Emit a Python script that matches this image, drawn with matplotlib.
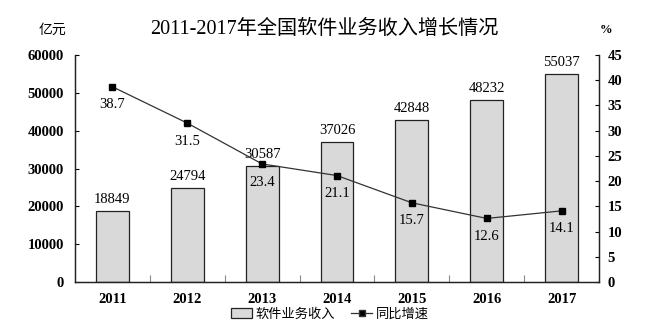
import matplotlib
matplotlib.use("Agg")
import matplotlib.pyplot as plt
from matplotlib.patches import Patch
from matplotlib.lines import Line2D
import numpy as np

years = ["2011", "2012", "2013", "2014", "2015", "2016", "2017"]
revenue = [18849, 24794, 30587, 37026, 42848, 48232, 55037]
growth = [38.7, 31.5, 23.4, 21.1, 15.7, 12.6, 14.1]
left_ticks = [0, 10000, 20000, 30000, 40000, 50000, 60000]
right_ticks = [0, 5, 10, 15, 20, 25, 30, 35, 40, 45]

SERIF = ["Liberation Serif", "Noto Sans CJK SC"]
CJK = ["Noto Sans CJK SC", "DejaVu Sans"]

W, H = 649, 331
fig = plt.figure(figsize=(W / 100, H / 100), dpi=100)
x0, x1, y0, y1 = 75, 599, 282, 55
ax = fig.add_axes([x0 / W, (H - y0) / H, (x1 - x0) / W, (y0 - y1) / H])
ax2 = ax.twinx()

x = np.arange(len(years))
ax.bar(x, revenue, width=0.44, color="#d9d9d9", edgecolor="#222222", linewidth=0.9, zorder=2)
for xi, v in zip(x, revenue):
    ax.text(xi, v + 1300, str(v), ha="center", va="bottom", fontsize=10.5,
            family=SERIF, color="black")

ax.set_xlim(-0.5, len(years) - 0.5)
ax.set_ylim(0, 60000)
ax.set_yticks(left_ticks)
ax.set_yticklabels([str(t) for t in left_ticks], family=SERIF, fontsize=10.5, fontweight="bold")
ax.set_xticks(x)
ax.set_xticklabels(years, family=SERIF, fontsize=10.5, fontweight="bold")
ax.set_xticks(np.arange(len(years) - 1) + 0.5, minor=True)
ax.tick_params(axis="x", which="major", length=0, pad=8)
ax.tick_params(axis="x", which="minor", direction="in", length=5, width=0.8, color="#888888")
ax.tick_params(axis="y", direction="in", length=3, width=0.8, pad=8)

ax2.plot(x, growth, color="#333333", linewidth=0.9, marker="s", markersize=5,
         markerfacecolor="black", markeredgecolor="black", zorder=3)
for xi, v in zip(x, growth):
    ax2.text(xi, v - 2.3, f"{v:.1f}", ha="center", va="top", fontsize=10.5,
             family=SERIF, color="black")
ax2.set_ylim(0, 45)
ax2.set_yticks(right_ticks)
ax2.set_yticklabels([str(t) for t in right_ticks], family=SERIF, fontsize=10.5, fontweight="bold")
ax2.tick_params(axis="y", direction="in", length=3, width=0.8, pad=6)

for a in (ax, ax2):
    a.spines["top"].set_visible(False)
    for s in ("left", "right", "bottom"):
        a.spines[s].set_linewidth(0.9)
        a.spines[s].set_color("#222222")

fig.text(324 / W, 1 - 29 / H, "2011-2017年全国软件业务收入增长情况", ha="center", va="center",
         fontsize=14.5, family=SERIF)
fig.text(52 / W, 1 - 30 / H, "亿元", ha="center", va="center", fontsize=10, family=CJK)
fig.text(606 / W, 1 - 30 / H, "%", ha="center", va="center", fontsize=9, family=SERIF,
         fontweight="bold")

handles = [Patch(facecolor="#d9d9d9", edgecolor="#222222", linewidth=0.9),
           Line2D([0], [0], color="#333333", linewidth=0.9, marker="s", markersize=4,
                  markerfacecolor="black")]
fig.legend(handles, ["软件业务收入", "同比增速"], loc="center", bbox_to_anchor=(330 / W, 1 - 314 / H),
           ncol=2, frameon=False, prop={"family": CJK, "size": 9.5}, handlelength=1.6,
           handletextpad=0.3, columnspacing=1.2)

fig.savefig("out.png", dpi=100, facecolor="white")
